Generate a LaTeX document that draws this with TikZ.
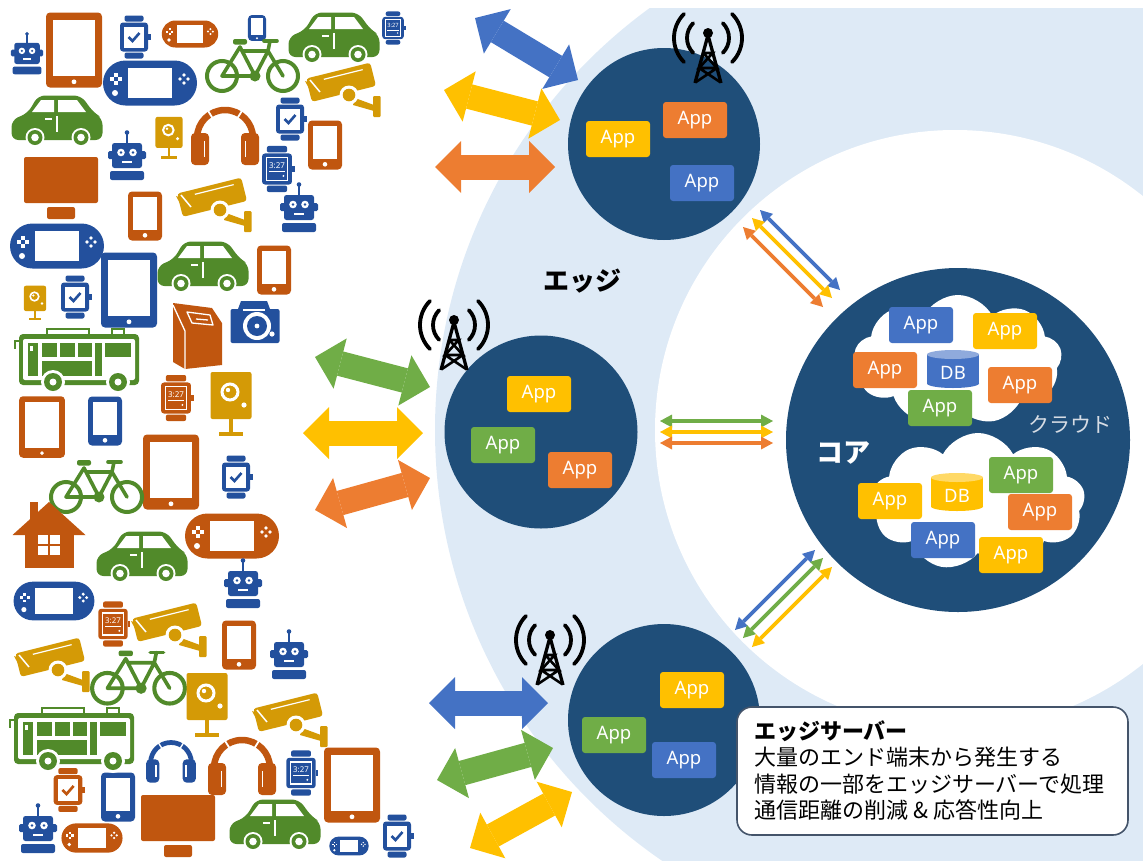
\documentclass[tikz,border=0pt]{standalone}
\usepackage{fontspec}
\newfontfamily\jp{Noto Sans CJK JP}
\newfontfamily\lat{Noto Sans}
\usetikzlibrary{arrows.meta,shapes.symbols}

\definecolor{navy}{HTML}{1F4E79}
\definecolor{zone}{HTML}{DEEAF6}
\definecolor{appY}{HTML}{FFC000}
\definecolor{appO}{HTML}{ED7D31}
\definecolor{appB}{HTML}{4472C4}
\definecolor{appG}{HTML}{70AD47}
\definecolor{dbBtop}{HTML}{8FAADC}
\definecolor{dbYtop}{HTML}{FFD966}
\definecolor{icO}{HTML}{C0560F}
\definecolor{icB}{HTML}{23509D}
\definecolor{icG}{HTML}{518A2A}
\definecolor{icY}{HTML}{D49A06}
\definecolor{boxline}{HTML}{44546A}
\definecolor{cloudtxt}{HTML}{D6DCE4}

\tikzset{
  app/.style={fill=#1, rounded corners=3pt, minimum width=64pt, minimum height=36pt,
    inner sep=0pt, text=white, font=\lat\fontsize{18.5}{20}\selectfont},
  hub/.style={circle, fill=navy, inner sep=0pt, minimum size=#1},
  bigarrow/.style={line width=25pt, draw=#1,
    {Triangle[width=52pt,length=26pt,line width=0pt]}-{Triangle[width=52pt,length=26pt,line width=0pt]}},
  link/.style={line width=3.6pt, draw=#1,
    {Triangle[width=13pt,length=12pt,line width=0pt]}-{Triangle[width=13pt,length=12pt,line width=0pt]}},
  puffy/.style={cloud, cloud puffs=9, cloud puff arc=125, fill=white, inner sep=0pt},
}

% ---------- device icons (centre x, centre y, scale, colour) ----------
\newcommand\icTablet[4]{\begin{scope}[shift={(#1,#2)},scale=#3]
  \fill[#4,rounded corners=4pt] (-28,-37.5) rectangle (28,37.5);
  \fill[white] (-21,-30.5) rectangle (21,26);
  \fill[white] (0,31.8) circle (2.4);
\end{scope}}

\newcommand\icPhone[4]{\begin{scope}[shift={(#1,#2)},scale=#3]
  \fill[#4,rounded corners=4pt] (-17,-24.5) rectangle (17,24.5);
  \fill[white] (-12,-19) rectangle (12,14);
  \fill[white] (0,19.3) circle (2.3);
\end{scope}}

\newcommand\icWatchCase[2]{%
  \fill[#2,rounded corners=2pt] (-9.5,-21.5) rectangle (9.5,-15.5);
  \fill[#2,rounded corners=2pt] (-9.5,15.5) rectangle (9.5,21.5);
  \fill[#2,rounded corners=3pt] (-14,-14.5) rectangle (14,14.5);
  \fill[#2] (14,-3) rectangle (16.5,2.5);}

\newcommand\icWatch[4]{\begin{scope}[shift={(#1,#2)},scale=#3]
  \icWatchCase{#3}{#4}
  \fill[white] (-10,-10.5) rectangle (10,10.5);
  \draw[#4,line width={#3*2.6pt}] (-5.5,0) -- (-1.5,4) -- (5.5,-4);
\end{scope}}

\newcommand\icWatchD[4]{\begin{scope}[shift={(#1,#2)},scale=#3]
  \icWatchCase{#3}{#4}
  \draw[white,line width={#3*1.3pt}] (-10,-10.5) rectangle (10,10.5);
  \node[text=white,font=\lat\bfseries\fontsize{7.5}{8}\selectfont,scale=#3,inner sep=0pt] (clock) at (0,-3.5) {3:27};
  \draw[white,line width={#3*1pt}] (-7.5,2.5) -- (7.5,2.5);
  \fill[white] (6,6.5) circle (1);
\end{scope}}

\newcommand\icConsole[4]{\begin{scope}[shift={(#1,#2)},scale=#3]
  \fill[#4] (-24.5,-22.5) -- (24.5,-22.5) arc (-90:90:22.5) -- (-24.5,22.5) arc (90:270:22.5) -- cycle;
  \fill[white] (-22,-15) rectangle (22,15);
  \foreach \px/\py in {-4/0,4/0,0/-4,0/4}{\fill[white] (-34+\px-1.7,-4+\py-1.7) rectangle ++(3.4,3.4);}
  \fill[white] (-35,10) circle (3);
  \foreach \px/\py in {-4/0,4/0,0/-4,0/4}{\fill[white] (34+\px,-4+\py) circle (1.9);}
\end{scope}}

\newcommand\icRobot[4]{\begin{scope}[shift={(#1,#2)},scale=#3]
  \fill[#4] (0,-22.5) circle (2.3);
  \fill[#4] (-0.9,-21) rectangle (0.9,-12);
  \fill[#4,rounded corners=2.5pt] (-15,-12) rectangle (15,13);
  \fill[#4,rounded corners=1.5pt] (-19,-4) rectangle (19,4);
  \fill[white] (-6,-2.5) circle (3.8); \fill[white] (6,-2.5) circle (3.8);
  \fill[#4] (-6,-2.5) circle (1.4); \fill[#4] (6,-2.5) circle (1.4);
  \fill[white] (-5,5.5) rectangle (5,7.8);
  \fill[#4,rounded corners=2pt] (-17,16) rectangle (17,25);
\end{scope}}

\newcommand\icCar[4]{\begin{scope}[shift={(#1,#2)},scale=#3]
  \fill[#4,rounded corners=7pt] (-45.5,19) -- (-45.5,-1) -- (-29,-8) -- (-19,-25.5) -- (24,-25.5)
     -- (37,-8) -- (45.5,-3) -- (45.5,19) -- cycle;
  \fill[white] (-25,-9) -- (-16,-21) -- (-3,-21) -- (-3,-9) -- cycle;
  \fill[white] (1,-9) -- (1,-21) -- (20,-21) -- (29,-9) -- cycle;
  \fill[white] (-0.8,-5) rectangle (0.8,11);
  \fill[white] (-12,-3.5) rectangle (-5,-1.5);
  \foreach \wx in {-22,24}{
    \fill[white] (\wx,16.5) circle (9.5);
    \fill[#4] (\wx,16.5) circle (7.5);
    \fill[white] (\wx,16.5) circle (3.8);}
\end{scope}}

\newcommand\icBike[4]{\begin{scope}[shift={(#1,#2)},scale=#3]
  \draw[#4,line width={#3*4pt}] (-30,12) circle (15) (31,12) circle (15);
  \draw[#4,line width={#3*3.6pt},line join=round,line cap=round]
     (-30,12) -- (-12,-17) -- (3,12) -- cycle
     (-10,-13) -- (16,-13) -- (3,12)
     (16,-13) -- (31,12)
     (16,-13) -- (18,-23);
  \draw[#4,line width={#3*3.6pt},line cap=round] (12,-23) -- (25,-23);
  \fill[#4,rounded corners=2pt] (-19,-25) rectangle (-5,-19.5);
  \fill[#4] (3,12) circle (5.5);
\end{scope}}

\newcommand\icSecCam[4]{\begin{scope}[shift={(#1,#2)},scale=#3]
  \begin{scope}[rotate=14]
    \fill[#4,rounded corners=3pt] (-33,-20) rectangle (33,4);
    \draw[white,line width={#3*1.2pt}] (-16,-15) -- (24,-15);
  \end{scope}
  \fill[#4] (-38,-9) -- (-30,6) -- (-21,-2) -- cycle;
  \draw[white,line width={#3*1.5pt}] (-33,-10) -- (-23,2);
  \fill[#4] (12,8) -- (31,15) -- (31,21) -- (10,15) -- cycle;
  \fill[#4,rounded corners=1pt] (30,6) rectangle (37.5,27);
  \fill[white] (6,5) circle (9.5);
  \fill[#4] (6,5) circle (6.3);
\end{scope}}

\newcommand\icHead[4]{\begin{scope}[shift={(#1,#2)},scale=#3]
  \draw[#4,line width={#3*6.5pt}] (-28,4) arc (180:360:28);
  \foreach \hpa in {238,302}{\draw[white,line width={#3*1.8pt}] (0,4) ++(\hpa:23) -- ++(\hpa:10);}
  \fill[#4,rounded corners=4pt] (-34,-1) rectangle (-16,31);
  \fill[#4,rounded corners=4pt] (16,-1) rectangle (34,31);
  \draw[white,line width={#3*1.5pt}] (-20.5,7) -- (-20.5,23) (20.5,7) -- (20.5,23);
\end{scope}}

\newcommand\icTV[4]{\begin{scope}[shift={(#1,#2)},scale=#3]
  \fill[#4,rounded corners=2pt] (-37,-31) rectangle (37,15);
  \fill[#4,rounded corners=2pt] (-14,19) rectangle (14,31);
\end{scope}}

\newcommand\icSpeaker[4]{\begin{scope}[shift={(#1,#2)},scale=#3]
  \fill[#4,rounded corners=2pt] (-20.5,-32) rectangle (20.5,15);
  \draw[white,line width={#3*3pt}] (-1,-12) circle (8);
  \fill[white] (-3,-14) circle (2.2);
  \fill[white] (13,1) circle (2.6);
  \fill[#4] (-2,14) rectangle (2,28);
  \fill[#4] (-12,27.5) rectangle (12,32);
\end{scope}}

\newcommand\icPhoto[4]{\begin{scope}[shift={(#1,#2)},scale=#3]
  \fill[#4,rounded corners=2pt] (-24.5,-13) rectangle (24.5,21);
  \fill[#4] (-17,-13) -- (-14,-21) -- (12,-21) -- (15,-13) -- cycle;
  \draw[white,line width={#3*1.2pt}] (-12,-12) -- (10,-12);
  \fill[white] (2,4) circle (14);
  \fill[#4] (2,4) circle (10);
  \fill[white] (2,4) circle (2.4);
  \fill[white] (17,12) circle (2.6);
\end{scope}}

\newcommand\icKiosk[4]{\begin{scope}[shift={(#1,#2)},scale=#3]
  \fill[#4] (-24,-33) -- (15,-28) -- (25,-13) -- (25,29) -- (-12,33) -- (-24,26) -- cycle;
  \draw[white,line width={#3*1.3pt},line join=round] (-10,-24) -- (13,-21) -- (16,-11) -- (-5,-13) -- cycle;
  \draw[white,line width={#3*1.3pt}] (-1,-17) -- (11,-16);
  \draw[white,line width={#3*1.3pt}] (-24,-31) -- (-12,-5) -- (-12,33);
\end{scope}}

\newcommand\icHouse[4]{\begin{scope}[shift={(#1,#2)},scale=#3]
  \fill[#4] (-19,-33) rectangle (-11,-16);
  \fill[#4] (-36.5,0) -- (0,-33) -- (36.5,0) -- cycle;
  \fill[#4] (-24.5,-2) rectangle (25,33);
  \fill[white] (-11,0) rectangle (-1,9);  \fill[white] (1,0) rectangle (11,9);
  \fill[white] (-11,11) rectangle (-1,20); \fill[white] (1,11) rectangle (11,20);
\end{scope}}

\newcommand\icBus[4]{\begin{scope}[shift={(#1,#2)},scale=#3]
  \draw[#4,line width={#3*2.5pt}] (-31,-24) -- (-31,-30) -- (11,-30) -- (11,-24)
     (34,-24) -- (34,-30) -- (46,-30) -- (46,-24)
     (-59,-18) -- (-63,-18) -- (-63,-10);
  \fill[#4,rounded corners=4pt] (-59,-25) rectangle (61,26);
  \fill[white,rounded corners=2pt] (-55,-20) rectangle (57,21);
  \fill[#4] (-50,-16) rectangle (-40,17);
  \fill[white] (-48,-13) rectangle (-45,-8);
  \fill[#4] (-36,-16) rectangle (-21,-2);
  \fill[#4] (-18,-16) rectangle (-3,-2);
  \fill[#4] (0,-16) rectangle (14,-2);
  \fill[#4] (17,-16) rectangle (24,17);
  \fill[#4] (27,-16) rectangle (53,-2);
  \fill[#4] (-36,2) rectangle (14,17);
  \foreach \wx in {-25,40}{
    \fill[white] (\wx,23) circle (12);
    \fill[#4] (\wx,23) circle (9);
    \fill[white] (\wx,23) circle (3.5);}
\end{scope}}

% ---------- radio mast (position of the top ball) ----------
\newcommand\radiomast[2]{\begin{scope}[shift={(#1,#2)}]
  \draw[line width=3.8pt,line cap=round]
     (0,5) ++(135:21) arc (135:225:21)
     (0,5) ++(-45:21) arc (-45:45:21)
     (0,5) ++(135:34) arc (135:225:34)
     (0,5) ++(-45:34) arc (-45:45:34);
  \draw[line width=3.3pt] (-13,50) -- (0,2) -- (13,50);
  \draw[line width=2.6pt] (-4.7,20) -- (4.7,20) -- (-8.9,35) -- (8.9,35) -- (-4.7,20)
     (-8.9,35) -- (12,49) (8.9,35) -- (-12,49);
  \fill (0,0) circle (5);
\end{scope}}

% ---------- database cylinder (centre x, centre y, body, top) ----------
\newcommand\dbcyl[4]{%
  \fill[#3] (#1-26,#2-14.5) rectangle (#1+26,#2+14.5);
  \fill[#3] (#1,#2+14.5) ellipse (26 and 4.5);
  \fill[#4] (#1,#2-14.5) ellipse (26 and 4.5);}

\begin{document}
\begin{tikzpicture}[x=1pt,y=-1pt]
\useasboundingbox (0,0) rectangle (1143,860);
\clip (0,0) rectangle (1143,860);

% zones
\begin{scope}
  \clip (0,8) rectangle (1143,860);
  \fill[zone] (957,430) circle (522);
\end{scope}
\fill[white] (955,430) circle (300);

% edge servers and core
\node[hub=192pt] (edgeTop) at (664,144) {};
\node[hub=193pt] (edgeMid) at (541,432) {};
\node[hub=192pt] (edgeBot) at (664,720) {};
\node[hub=344pt] (core) at (958,440) {};

% clouds in the core
\node[puffy, aspect=1.6, minimum width=208pt, minimum height=130pt] (cloudUp) at (958,360) {};
\node[puffy, aspect=1.5, minimum width=214pt, minimum height=138pt] (cloudLow) at (978,502) {};

% applications on the edge servers
\node[app=appY] (aT1) at (618,139) {App};
\node[app=appO] (aT2) at (695,120) {App};
\node[app=appB] (aT3) at (702,183) {App};
\node[app=appY] (aM1) at (539,394) {App};
\node[app=appG] (aM2) at (503,445) {App};
\node[app=appO] (aM3) at (580,470) {App};
\node[app=appY] (aB1) at (692,690) {App};
\node[app=appG] (aB2) at (614,735) {App};
\node[app=appB] (aB3) at (684,760) {App};

% applications and databases in the clouds
\node[app=appB] (cU1) at (921,325) {App};
\node[app=appY] (cU2) at (1005,331) {App};
\node[app=appO] (cU3) at (885,370) {App};
\dbcyl{953}{369}{appB}{dbBtop}
\node[text=white, font=\lat\fontsize{18.5}{20}\selectfont, inner sep=0pt] (dbU) at (953,373) {DB};
\node[app=appO] (cU4) at (1020,385) {App};
\node[app=appG] (cU5) at (940,408) {App};

\node[app=appY] (cL1) at (890,501) {App};
\dbcyl{957}{492}{appY}{dbYtop}
\node[text=white, font=\lat\fontsize{18.5}{20}\selectfont, inner sep=0pt] (dbL) at (957,496) {DB};
\node[app=appG] (cL2) at (1021,475) {App};
\node[app=appO] (cL3) at (1040,512) {App};
\node[app=appB] (cL4) at (943,540) {App};
\node[app=appY] (cL5) at (1011,555) {App};

% zone labels
\node[font=\jp\bfseries\fontsize{26}{28}\selectfont, inner sep=0pt] (edgeLabel) at (582,281) {エッジ};
\node[text=white, font=\jp\bfseries\fontsize{27}{28}\selectfont, inner sep=0pt] (coreLabel) at (843,453) {コア};
\node[text=cloudtxt, font=\jp\fontsize{21}{22}\selectfont, inner sep=0pt] (cloudLabel) at (1070,424) {クラウド};

% links between edge servers and core
\coordinate (lt1a) at (760,210); \coordinate (lt1b) at (840,290);
\coordinate (lt2a) at (752,218); \coordinate (lt2b) at (832,298);
\coordinate (lt3a) at (743,227); \coordinate (lt3b) at (823,307);
\coordinate (lm1a) at (660,421); \coordinate (lm1b) at (773,421);
\coordinate (lm2a) at (660,432); \coordinate (lm2b) at (773,432);
\coordinate (lm3a) at (660,443); \coordinate (lm3b) at (773,443);
\coordinate (lb1a) at (735,630); \coordinate (lb1b) at (815,550);
\coordinate (lb2a) at (743,638); \coordinate (lb2b) at (823,558);
\coordinate (lb3a) at (752,647); \coordinate (lb3b) at (832,567);
\draw[link=appB] (lt1a) -- (lt1b);
\draw[link=appY] (lt2a) -- (lt2b);
\draw[link=appO] (lt3a) -- (lt3b);
\draw[link=appG] (lm1a) -- (lm1b);
\draw[link=appY] (lm2a) -- (lm2b);
\draw[link=appO] (lm3a) -- (lm3b);
\draw[link=appB] (lb1a) -- (lb1b);
\draw[link=appG] (lb2a) -- (lb2b);
\draw[link=appY] (lb3a) -- (lb3b);

% traffic between devices and edge servers
\coordinate (dt1) at (475,18);  \coordinate (et1) at (578,80);
\coordinate (dt2) at (444,90);  \coordinate (et2) at (560,120);
\coordinate (dt3) at (435,167); \coordinate (et3) at (555,167);
\coordinate (dm1) at (315,357); \coordinate (em1) at (430,387);
\coordinate (dm2) at (303,433); \coordinate (em2) at (423,433);
\coordinate (dm3) at (315,510); \coordinate (em3) at (430,478);
\coordinate (db1) at (429,703); \coordinate (eb1) at (548,703);
\coordinate (db2) at (437,780); \coordinate (eb2) at (553,748);
\coordinate (db3) at (470,848); \coordinate (eb3) at (572,792);
\draw[bigarrow=appB] (dt1) -- (et1);
\draw[bigarrow=appY] (dt2) -- (et2);
\draw[bigarrow=appO] (dt3) -- (et3);
\draw[bigarrow=appG] (dm1) -- (em1);
\draw[bigarrow=appY] (dm2) -- (em2);
\draw[bigarrow=appO] (dm3) -- (em3);
\draw[bigarrow=appB] (db1) -- (eb1);
\draw[bigarrow=appG] (db2) -- (eb2);
\draw[bigarrow=appY] (db3) -- (eb3);

% radio masts
\radiomast{708}{33}
\radiomast{454}{320}
\radiomast{550}{635}

% end devices
\icTablet{74}{50}{1}{icO}
\icTablet{129}{290}{1}{icB}
\icTablet{42}{427}{0.82}{icO}
\icTablet{171}{472}{1}{icO}
\icTablet{352}{785}{1}{icO}
\icPhone{257}{28}{0.53}{icB}
\icPhone{325}{145}{1}{icO}
\icPhone{145}{216}{1}{icO}
\icPhone{274}{270}{1}{icO}
\icPhone{105}{421}{1}{icB}
\icPhone{239}{645}{1}{icO}
\icPhone{118}{797}{1}{icB}
\icWatch{134}{37}{1}{icB}
\icWatch{290}{119}{1}{icB}
\icWatch{75}{297}{1}{icB}
\icWatch{236}{477}{1}{icB}
\icWatch{68}{790}{1.02}{icO}
\icWatch{397}{836}{1}{icB}
\icWatchD{393}{28}{0.77}{icB}
\icWatchD{277}{169}{1.07}{icB}
\icWatchD{176}{398}{1.07}{icO}
\icWatchD{113}{624}{1.05}{icO}
\icWatchD{301}{773}{1.05}{icB}
\icConsole{190}{34}{0.6}{icO}
\icConsole{150}{83}{1}{icB}
\icConsole{57}{246}{1}{icB}
\icConsole{232}{536}{1}{icO}
\icConsole{54}{601}{0.86}{icB}
\icConsole{92}{838}{0.65}{icO}
\icConsole{349}{846}{0.42}{icB}
\icRobot{27}{53}{0.85}{icB}
\icRobot{127}{155}{1}{icB}
\icRobot{299}{207}{1}{icB}
\icRobot{243}{583}{1}{icB}
\icRobot{289}{654}{1}{icB}
\icRobot{38}{828}{1}{icB}
\icCar{334}{38}{1}{icG}
\icCar{57}{121}{1}{icG}
\icCar{203}{267}{1}{icG}
\icCar{142}{557}{1}{icG}
\icCar{275}{825}{1}{icG}
\icBike{252}{64}{1}{icG}
\icBike{96}{485}{1}{icG}
\icBike{138}{676}{1.02}{icG}
\icSecCam{343}{90}{1}{icY}
\icSecCam{214}{205}{1}{icY}
\icSecCam{169}{630}{1}{icY}
\icSecCam{52}{665}{1}{icY}
\icSecCam{290}{720}{1}{icY}
\icHead{225}{134}{1}{icO}
\icHead{171}{760}{0.73}{icB}
\icHead{242}{764}{1}{icO}
\icTV{61}{188}{1}{icO}
\icTV{178}{826}{1}{icO}
\icSpeaker{169}{138}{0.66}{icY}
\icSpeaker{35}{303}{0.54}{icY}
\icSpeaker{231}{404}{1}{icY}
\icSpeaker{207}{705}{1}{icY}
\icPhoto{255}{322}{1}{icB}
\icKiosk{197}{336}{1}{icO}
\icHouse{49}{535}{1}{icO}
\icBus{78}{359}{1}{icG}
\icBus{73}{738}{1}{icG}

% explanation box
\draw[boxline, line width=1.6pt, fill=white, rounded corners=15pt] (737,707) rectangle (1128,835);
\node[anchor=north west, align=left, inner sep=0pt,
      font=\jp\fontsize{22}{26.5}\selectfont] (note) at (754,720)
  {\textbf{エッジサーバー}\\
   大量のエンド端末から発生する\\
   情報の一部をエッジサーバーで処理\\
   通信距離の削減 \& 応答性向上};
\end{tikzpicture}
\end{document}
